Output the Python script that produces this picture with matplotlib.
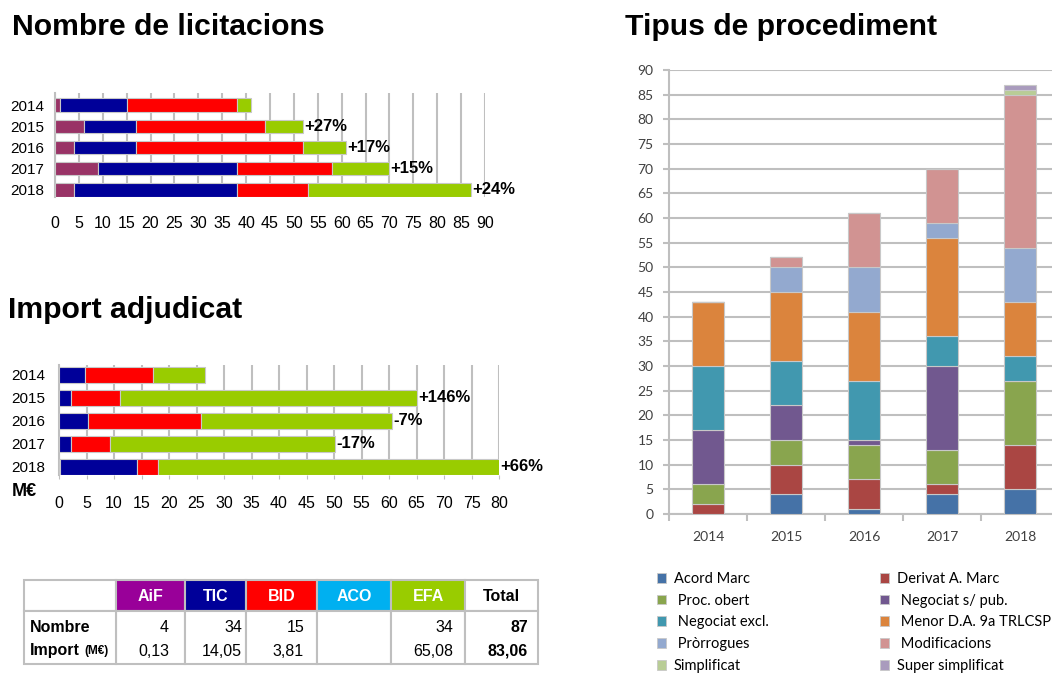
import matplotlib
matplotlib.use("Agg")
import matplotlib.pyplot as plt
from matplotlib.patches import Rectangle, Patch
import numpy as np

plt.rcParams['font.family'] = ['Liberation Sans', 'DejaVu Sans']

# ---------------- data ----------------
years = ["2014", "2015", "2016", "2017", "2018"]
units = ["AiF", "TIC", "BID", "EFA"]
unit_colors = ["#993366", "#000099", "#FF0000", "#99CC00"]

# Nombre de licitacions (per unit)
nombre_aif = [1, 6, 4, 9, 4]
nombre_tic = [14, 11, 13, 29, 34]
nombre_bid = [23, 27, 35, 20, 15]
nombre_efa = [3, 8, 9, 12, 34]
nombre_pct = ["", "+27%", "+17%", "+15%", "+24%"]

# Import adjudicat (M€)
import_aif = [0, 0, 0, 0, 0.13]
import_tic = [4.7, 2.2, 5.3, 2.2, 14.05]
import_bid = [12.3, 8.8, 20.5, 7.1, 3.81]
import_efa = [9.5, 54.0, 34.7, 40.9, 65.08]
import_pct = ["", "+146%", "-7%", "-17%", "+66%"]

# Table
table_headers = ["AiF", "TIC", "BID", "ACO", "EFA", "Total"]
table_header_colors = ["#990099", "#000099", "#FF0000", "#00B0F0", "#99CC00", "#FFFFFF"]
table_nombre = ["4", "34", "15", "", "34", "87"]
table_import = ["0,13", "14,05", "3,81", "", "65,08", "83,06"]

# Tipus de procediment
proc_labels = ["Acord Marc", "Derivat A. Marc", " Proc. obert", " Negociat s/ pub.",
               " Negociat excl.", " Menor D.A. 9a TRLCSP", " Pròrrogues", " Modificacions",
               "Simplificat", "Super simplificat"]
proc_colors = ["#4572A7", "#AA4643", "#89A54E", "#71588F", "#4198AF",
               "#DB843D", "#93A9CF", "#D19392", "#B9CD96", "#A99BBD"]
acord_marc = [0, 4, 1, 4, 5]
derivat_marc = [2, 6, 6, 2, 9]
proc_obert = [4, 5, 7, 7, 13]
negociat_spub = [11, 7, 1, 17, 0]
negociat_excl = [13, 9, 12, 6, 5]
menor = [13, 14, 14, 20, 11]
prorrogues = [0, 5, 9, 3, 11]
modificacions = [0, 2, 11, 11, 31]
simplificat = [0, 0, 0, 0, 1]
super_simplificat = [0, 0, 0, 0, 1]
proc_values = [acord_marc, derivat_marc, proc_obert, negociat_spub, negociat_excl,
               menor, prorrogues, modificacions, simplificat, super_simplificat]

# ---------------- figure ----------------
W, H = 1052, 680
fig = plt.figure(figsize=(W / 100, H / 100), dpi=100)


def fx(px):
    return px / W


def fy(py):
    return 1 - py / H


def box(x0, y0, x1, y1):
    return [fx(x0), fy(y1), (x1 - x0) / W, (y1 - y0) / H]


GRID = "#BFBFBF"

# Titles
fig.text(fx(12), fy(35), "Nombre de licitacions", fontsize=21.7, weight='bold', va='baseline')
fig.text(fx(8), fy(318), "Import adjudicat", fontsize=21.7, weight='bold', va='baseline')
fig.text(fx(625), fy(35), "Tipus de procediment", fontsize=21.7, weight='bold', va='baseline')


def hbar_chart(ax, series, colors, pct, xmax, step, ylim, height):
    y = np.arange(len(years))
    left = np.zeros(len(years))
    for vals, c in zip(series, colors):
        vals = np.array(vals, dtype=float)
        ax.barh(y, vals, left=left, height=height, color=c, edgecolor="#C8C8C8",
                linewidth=0.8, zorder=3)
        left += vals
    for yi, tot, p in zip(y, left, pct):
        if p:
            ax.text(min(tot, xmax) + xmax * 0.003, yi, p, fontsize=12, weight='bold',
                    va='center', ha='left', clip_on=False)
    ax.set_xlim(0, xmax)
    ax.set_ylim(*ylim)
    ax.set_yticks(y)
    ax.set_yticklabels(years)
    ax.set_xticks(np.arange(0, xmax + 1, step))
    ax.grid(axis='x', color=GRID, linewidth=1.5, zorder=0)
    ax.set_axisbelow(True)
    for s in ["top", "right", "bottom"]:
        ax.spines[s].set_visible(False)
    ax.spines["left"].set_color(GRID)
    ax.spines["left"].set_linewidth(1.5)


# Nombre de licitacions
ax1 = fig.add_axes(box(55, 93, 485, 197))
hbar_chart(ax1, [nombre_aif, nombre_tic, nombre_bid, nombre_efa], unit_colors,
           nombre_pct, 90, 5, (4.33, -0.565), 0.62)
ax1.tick_params(axis='x', length=0, pad=14, labelsize=11.5)
ax1.tick_params(axis='y', length=0, pad=8, labelsize=11)

# Import adjudicat
ax2 = fig.add_axes(box(59, 365, 499, 475))
hbar_chart(ax2, [import_aif, import_tic, import_bid, import_efa], unit_colors,
           import_pct, 80, 5, (4.35, -0.435), 0.7)
ax2.tick_params(axis='x', length=3, color=GRID, pad=12, labelsize=11.5)
ax2.tick_params(axis='y', length=0, pad=10, labelsize=11)
fig.text(fx(12), fy(491), "M€", fontsize=13, weight='bold', va='center')

# ---------------- table ----------------
axt = fig.add_axes(box(20, 576, 542, 668))
axt.set_xlim(20, 542)
axt.set_ylim(668, 576)
axt.axis('off')
col_edges = [24, 116, 185, 246, 317, 391, 465, 538]
top, mid, bot = 580, 611, 664
value_right = [169, 242, 304, None, 453, 528]
axt.add_patch(Rectangle((col_edges[0], top), col_edges[1] - col_edges[0], mid - top,
                        facecolor="white", edgecolor=GRID, linewidth=1.5))
for i, (hname, hc) in enumerate(zip(table_headers, table_header_colors)):
    x0, x1 = col_edges[i + 1], col_edges[i + 2]
    axt.add_patch(Rectangle((x0, top), x1 - x0, mid - top, facecolor=hc,
                            edgecolor=GRID, linewidth=1.5))
    axt.add_patch(Rectangle((x0, mid), x1 - x0, bot - mid, facecolor="white",
                            edgecolor=GRID, linewidth=1.5))
    tc = "black" if hname == "Total" else "white"
    axt.text((x0 + x1) / 2, (top + mid) / 2 + 1, hname, color=tc, fontsize=11.5,
             weight='bold', ha='center', va='center')
    if value_right[i] is not None:
        w = 'bold' if hname == "Total" else 'normal'
        axt.text(value_right[i], 627, table_nombre[i], fontsize=11.5, weight=w,
                 ha='right', va='center')
        axt.text(value_right[i], 651, table_import[i], fontsize=11.5, weight=w,
                 ha='right', va='center')
axt.add_patch(Rectangle((col_edges[0], mid), col_edges[1] - col_edges[0], bot - mid,
                        facecolor="white", edgecolor=GRID, linewidth=1.5))
axt.text(30, 627, "Nombre", fontsize=11.5, weight='bold', ha='left', va='center')
t_imp = axt.text(30, 651, "Import", fontsize=11.5, weight='bold', ha='left', va='center')
axt.annotate("(M€)", xycoords=t_imp, xy=(1, 0.5), xytext=(3, 0),
             textcoords='offset points', fontsize=8.5, weight='bold', va='center')

# ---------------- stacked columns ----------------
ax3 = fig.add_axes(box(669, 70, 1059, 514))
x = np.arange(len(years))
bottom = np.zeros(len(years))
handles = []
for vals, c, lab in zip(proc_values, proc_colors, proc_labels):
    vals = np.array(vals, dtype=float)
    ax3.bar(x, vals, bottom=bottom, width=0.4, color=c, edgecolor="#C8C8C8",
            linewidth=0.8, zorder=3)
    bottom += vals
    handles.append(Patch(facecolor=c, edgecolor="#C8C8C8", linewidth=0.6, label=lab))
ax3.set_ylim(0, 90)
ax3.set_xlim(-0.5, 4.5)
ax3.set_yticks(np.arange(0, 91, 5))
ax3.set_xticks(x)
ax3.set_xticklabels(years)
ax3.set_xticks(np.arange(-0.5, 5.0, 1.0), minor=True)
ax3.grid(axis='y', color=GRID, linewidth=1.5, zorder=0)
ax3.set_axisbelow(True)
for s in ["top", "right"]:
    ax3.spines[s].set_visible(False)
for s in ["left", "bottom"]:
    ax3.spines[s].set_color(GRID)
    ax3.spines[s].set_linewidth(1.5)
ax3.tick_params(axis='x', which='major', length=0, pad=12, labelsize=10,
                labelcolor="#404040")
ax3.tick_params(axis='x', which='minor', length=5, width=1.5, color=GRID)
ax3.tick_params(axis='y', length=4, width=1.5, color=GRID, pad=7, labelsize=10,
                labelcolor="#404040")
for lbl in ax3.get_xticklabels() + ax3.get_yticklabels():
    lbl.set_fontfamily(['Lato', 'DejaVu Sans'])

# legend in two columns (row-wise order)
col1 = [handles[i] for i in (0, 2, 4, 6, 8)]
col2 = [handles[i] for i in (1, 3, 5, 7, 9)]
for hs, xpos in ((col1, 657), (col2, 880)):
    fig.legend(handles=hs, loc='upper left', bbox_to_anchor=(fx(xpos), fy(572)),
               frameon=False, prop={'family': 'Lato', 'size': 10.5},
               handlelength=0.65, handleheight=0.65, handletextpad=0.5,
               labelspacing=0.53, borderpad=0, borderaxespad=0)

fig.savefig("out.png", dpi=100)
